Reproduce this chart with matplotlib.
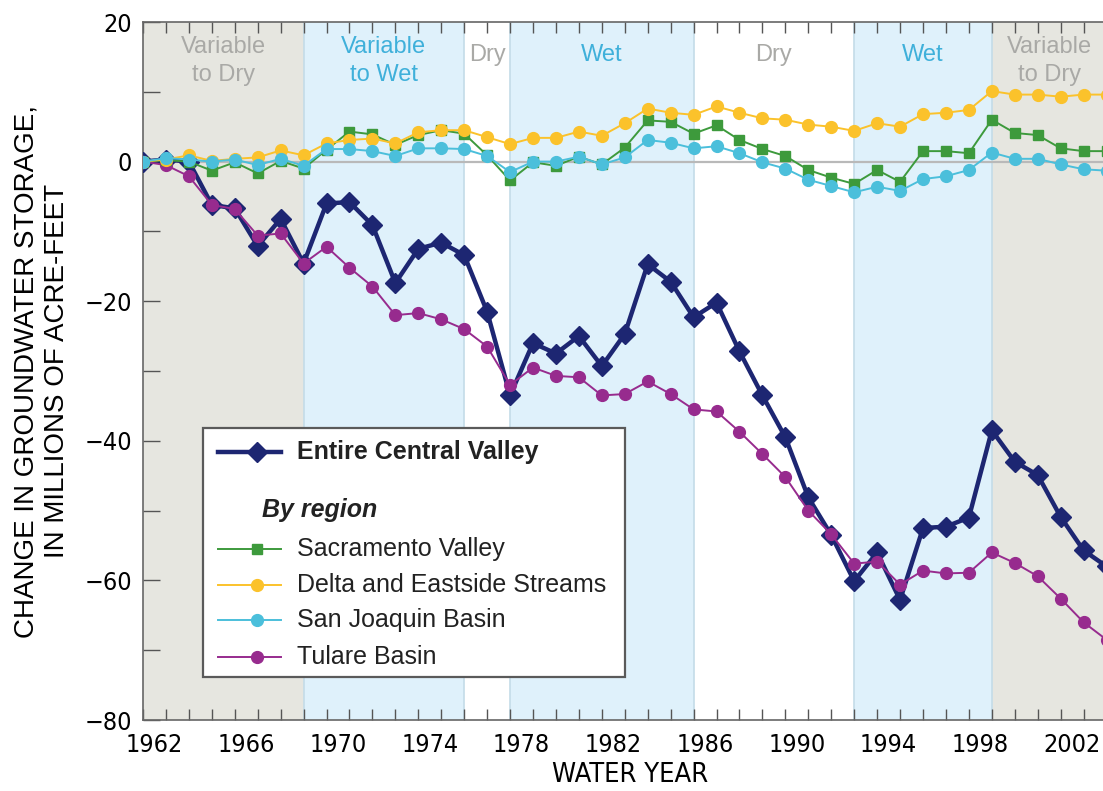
import numpy as np
import matplotlib.pyplot as plt
from matplotlib.lines import Line2D
from matplotlib.patches import Rectangle
from matplotlib.ticker import FixedLocator, NullFormatter

# water years 1961..2003, points plotted at end of each water year
years = np.arange(1961, 2004)

entire = [0, 0.3, 0, -6.2, -6.7, -12.1, -8.2, -14.6, -6, -5.8, -9.1, -17.4, -12.5, -11.6,
          -13.4, -21.5, -33.5, -26, -27.5, -25, -29.3, -24.7, -14.7, -17.2, -22.3, -20.2,
          -27.2, -33.5, -39.5, -48.1, -53.5, -60.1, -56, -62.8, -52.5, -52.3, -51, -38.5,
          -43, -44.9, -50.9, -55.7, -58]
tulare = [0, -0.5, -2.1, -6.2, -6.8, -10.6, -10.3, -14.6, -12.2, -15.2, -17.9, -22, -21.7,
          -22.6, -24, -26.5, -32, -29.5, -30.7, -30.9, -33.5, -33.3, -31.5, -33.3, -35.5,
          -35.8, -38.7, -41.9, -45.2, -50, -53.4, -57.6, -57.3, -60.6, -58.6, -59, -58.9,
          -56, -57.5, -59.4, -62.6, -66, -68.5]
sacramento = [0, 0.2, 0, -1.3, -0.1, -1.7, 0.1, -1.0, 1.7, 4.3, 3.9, 2.4, 3.8, 4.5, 4.0,
              0.9, -2.7, -0.1, -0.6, 0.7, -0.4, 2.0, 5.9, 5.7, 4.0, 5.2, 3.1, 1.8, 0.8,
              -1.2, -2.3, -3.2, -1.2, -2.9, 1.5, 1.5, 1.2, 6.0, 4.1, 3.8, 1.9, 1.5, 1.5]
delta = [0, 0.3, 0.9, 0.1, 0.4, 0.6, 1.6, 0.9, 2.6, 3.1, 3.3, 2.6, 4.2, 4.5, 4.5, 3.5,
         2.5, 3.4, 3.4, 4.3, 3.7, 5.5, 7.6, 7.0, 6.7, 7.9, 7.0, 6.2, 6.0, 5.3, 5.0, 4.4,
         5.5, 5.0, 6.8, 7.0, 7.4, 10.1, 9.6, 9.6, 9.3, 9.6, 9.6]
sanjoaquin = [0, 0.5, 0.3, 0, 0.3, -0.5, 0.4, -0.6, 1.8, 1.8, 1.5, 0.8, 1.9, 1.9, 1.8,
              0.8, -1.5, 0, 0, 0.7, -0.4, 0.6, 3.1, 2.7, 1.9, 2.2, 1.2, -0.1, -1.0, -2.6,
              -3.5, -4.4, -3.6, -4.2, -2.5, -2.1, -1.2, 1.3, 0.4, 0.4, -0.4, -1.1, -1.3]

# climate periods (year boundaries)
period_edges = [1961.5, 1968.5, 1975.5, 1977.5, 1985.5, 1992.5, 1998.5, 2003.5]
period_names = ['Variable\nto Dry', 'Variable\nto Wet', 'Dry', 'Wet', 'Dry', 'Wet', 'Variable\nto Dry']
period_kind = ['var', 'wet', 'dry', 'wet', 'dry', 'wet', 'var']

tick_years = [1962, 1966, 1970, 1974, 1978, 1982, 1986, 1990, 1994, 1998, 2002]

fill_col = {'var': '#e6e6e0', 'wet': '#dff1fb', 'dry': 'white'}
text_col = {'var': '#a9a9a6', 'wet': '#3fb0da', 'dry': '#a9a9a6'}

navy = '#1d2672'
green = '#3d9a3c'
yellow = '#fbc22b'
cyan = '#4bbfdb'
purple = '#972b8e'

plain = ['Liberation Sans', 'DejaVu Sans']
cond = dict(family='DejaVu Sans', stretch='condensed')

fig = plt.figure(figsize=(11.03, 7.91), dpi=100)
ax = fig.add_axes([143 / 1103, 71 / 791, 975 / 1103, 698 / 791])

x_end = 2004.0
for i, kind in enumerate(period_kind):
    x0 = period_edges[i]
    x1 = period_edges[i + 1] if i < len(period_kind) - 1 else x_end
    ax.axvspan(x0, x1, color=fill_col[kind], zorder=0, lw=0)
    xm = (period_edges[i] + period_edges[i + 1]) / 2
    ym = 14.4 if '\n' in period_names[i] else 15.3
    ax.text(xm, ym, period_names[i], ha='center', va='center', color=text_col[kind],
            fontsize=17, family=plain, linespacing=1.4, zorder=1)
for xb in period_edges[1:-1]:
    ax.axvline(xb, color='#c4dce8', lw=1.2, zorder=0.5)

ax.axhline(0, color='#b9b9b9', lw=1.6, zorder=1)

xs = years + 0.5
ax.plot(xs, entire, color=navy, lw=3.2, marker='D', ms=10.5, mec=navy, zorder=3)
ax.plot(xs, tulare, color=purple, lw=1.4, marker='o', ms=8.5, mec=purple, zorder=4)
ax.plot(xs, sacramento, color=green, lw=1.4, marker='s', ms=7.5, mec=green, zorder=4)
ax.plot(xs, delta, color=yellow, lw=1.4, marker='o', ms=8.5, mec=yellow, zorder=4)
ax.plot(xs, sanjoaquin, color=cyan, lw=1.4, marker='o', ms=8.5, mec=cyan, zorder=5)

ax.set_xlim(1961.5, x_end)
ax.set_ylim(-80, 20)

ax.xaxis.set_major_locator(FixedLocator(tick_years))
ax.xaxis.set_minor_locator(FixedLocator(np.arange(1961.5, 2004, 1.0)))
ax.set_xticklabels([str(y) for y in tick_years], fontsize=18, **cond)
ax.tick_params(axis='x', which='major', length=0, pad=9)
ax.tick_params(axis='x', which='minor', direction='in', length=8, width=1,
               color='#555555', top=True, bottom=True)

ax.set_yticks([20, 0, -20, -40, -60, -80])
ax.set_yticklabels(['20', '0', '\u221220', '\u221240', '\u221260', '\u221280'],
                   fontsize=18, **cond)
ax.yaxis.set_minor_locator(FixedLocator([10, -10, -30, -50, -70]))
ax.yaxis.set_minor_formatter(NullFormatter())
ax.tick_params(axis='y', which='both', direction='in', length=12, width=1,
               color='#555555', pad=8)

for s in ax.spines.values():
    s.set_color('#666666')
    s.set_linewidth(1.2)

ax.set_xlabel('WATER YEAR', fontsize=19.5, labelpad=4, **cond)
ax.set_ylabel('CHANGE IN GROUNDWATER STORAGE,\nIN MILLIONS OF ACRE-FEET', family=plain,
              fontsize=20, labelpad=10, linespacing=1.25)

# legend box
ax.add_patch(Rectangle((0.0615, 0.0616), 0.433, 0.357, transform=ax.transAxes,
                       facecolor='white', edgecolor='#5a5a5a', lw=1.6, zorder=6))
leg_rows = [
    ('Entire Central Valley', navy, 'D', 10.5, 3.2, 0.384),
    ('Sacramento Valley', green, 's', 7.5, 1.4, 0.245),
    ('Delta and Eastside Streams', yellow, 'o', 8.5, 1.4, 0.193),
    ('San Joaquin Basin', cyan, 'o', 8.5, 1.4, 0.143),
    ('Tulare Basin', purple, 'o', 8.5, 1.4, 0.090),
]
for name, col, mk, ms, lw, yy in leg_rows:
    ax.add_line(Line2D([0.077, 0.142], [yy, yy], transform=ax.transAxes, color=col, lw=lw,
                       zorder=7))
    ax.add_line(Line2D([0.117], [yy], transform=ax.transAxes, color=col, marker=mk, ms=ms,
                       mec=col, zorder=7))
    ax.text(0.158, yy, name, transform=ax.transAxes, va='center', ha='left', fontsize=18,
            family=plain, fontweight='bold' if name.startswith('Entire') else 'normal',
            color='#222222', zorder=8)
ax.text(0.122, 0.301, 'By region', transform=ax.transAxes, va='center', ha='left',
        fontsize=18, family=plain, fontweight='bold', fontstyle='italic', color='#222222',
        zorder=8)

fig.savefig('out.png', dpi=100)
